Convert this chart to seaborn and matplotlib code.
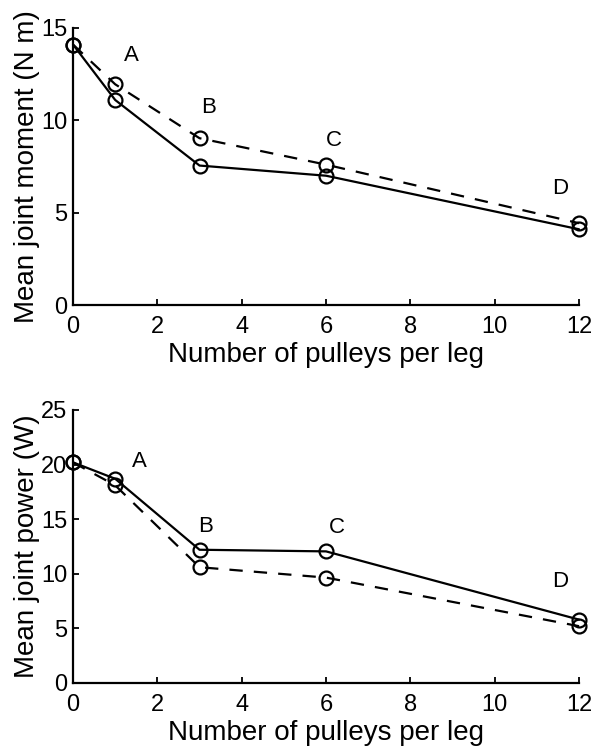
import numpy as np
import pandas as pd
import matplotlib
matplotlib.use("Agg")
import matplotlib.pyplot as plt
import seaborn as sns

# ── Data ──────────────────────────────────────────────────────────────────────
pulleys = [0, 1, 3, 6, 12]
moment_solid = [14.1, 11.1, 7.55, 7.0, 4.1]
moment_dashed = [14.1, 11.95, 9.03, 7.6, 4.43]
power_solid = [20.2, 18.7, 12.2, 12.05, 5.8]
power_dashed = [20.2, 18.1, 10.6, 9.65, 5.2]

point_labels = ["A", "B", "C", "D"]
moment_label_xy = [(1.38, 13.5), (3.22, 10.7), (6.18, 8.9), (11.56, 6.3)]
power_label_xy = [(1.58, 20.3), (3.14, 14.35), (6.25, 14.2), (11.56, 9.3)]

sns.set_style("ticks", {"axes.edgecolor": "black", "text.color": "black",
                        "xtick.color": "black", "ytick.color": "black",
                        "axes.labelcolor": "black"})
plt.rcParams["font.family"] = ["Liberation Sans", "DejaVu Sans"]

fig = plt.figure(figsize=(6, 7.55), dpi=100)
ax1 = fig.add_axes([0.1217, 0.596, 0.8434, 0.367])
ax2 = fig.add_axes([0.1217, 0.0954, 0.8434, 0.3616])

panels = [
    (ax1, moment_solid, moment_dashed, moment_label_xy, 15,
     [0, 5, 10, 15], "Mean joint moment (N m)"),
    (ax2, power_solid, power_dashed, power_label_xy, 25,
     [0, 5, 10, 15, 20, 25], "Mean joint power (W)"),
]

for ax, solid, dashed, lab_xy, ymax, yticks, ylabel in panels:
    df = pd.DataFrame({
        "x": pulleys * 2,
        "y": solid + dashed,
        "kind": ["solid"] * len(pulleys) + ["dashed"] * len(pulleys),
    })
    sns.lineplot(data=df[df["kind"] == "solid"], x="x", y="y", ax=ax,
                 color="black", lw=1.6, marker="o", ms=10, mfc="none",
                 mec="black", mew=1.6, clip_on=False)
    sns.lineplot(data=df[df["kind"] == "dashed"], x="x", y="y", ax=ax,
                 color="black", lw=1.6, ls=(0, (6, 5)), marker="o", ms=10,
                 mfc="none", mec="black", mew=1.6, clip_on=False)
    for txt, (tx, ty) in zip(point_labels, lab_xy):
        ax.text(tx, ty, txt, fontsize=16, ha="center", va="center")
    ax.set_xlim(0, 12)
    ax.set_ylim(0, ymax)
    ax.set_xticks([0, 2, 4, 6, 8, 10, 12])
    ax.set_yticks(yticks)
    ax.tick_params(direction="in", length=4, width=1.3, labelsize=17)
    ax.tick_params(axis="x", pad=8)
    ax.tick_params(axis="y", pad=4)
    for sp in ["left", "bottom"]:
        ax.spines[sp].set_linewidth(1.6)
    sns.despine(ax=ax)
    ax.set_xlabel("Number of pulleys per leg", fontsize=20, labelpad=3)
    ax.set_ylabel(ylabel, fontsize=20, labelpad=1)

fig.savefig("out.png", dpi=100)
